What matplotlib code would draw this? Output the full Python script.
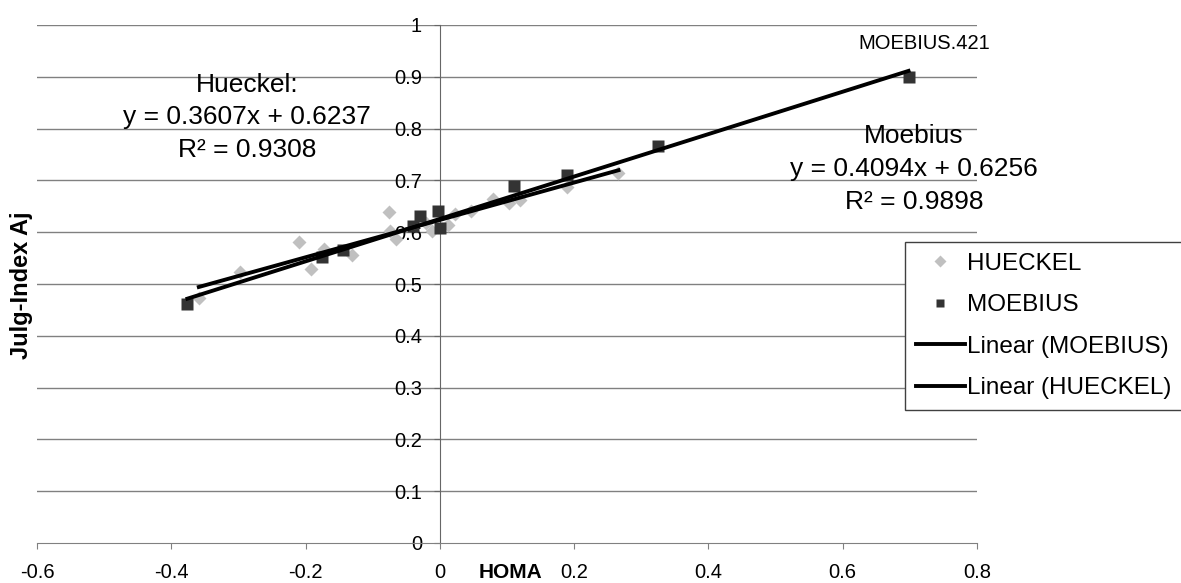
import matplotlib
matplotlib.use("Agg")
import matplotlib.pyplot as plt
import numpy as np

# data
hueckel_x = [-0.359, -0.298, -0.210, -0.192, -0.173, -0.131, -0.076, -0.074, -0.065,
             -0.020, -0.011, 0.012, 0.022, 0.046, 0.079, 0.103, 0.120, 0.189, 0.266]
hueckel_y = [0.473, 0.524, 0.581, 0.529, 0.568, 0.556, 0.639, 0.602, 0.587,
             0.617, 0.603, 0.614, 0.635, 0.641, 0.664, 0.657, 0.663, 0.688, 0.715]

moebius_x = [-0.376, -0.175, -0.144, -0.040, -0.030, -0.003, 0.000, 0.110, 0.190, 0.325, 0.698]
moebius_y = [0.462, 0.553, 0.566, 0.612, 0.631, 0.640, 0.608, 0.690, 0.710, 0.767, 0.900]

# trend line coefficients as printed on the chart
hueckel_fit = (0.3607, 0.6237, 0.9308)
moebius_fit = (0.4094, 0.6256, 0.9898)

x_ticks = [-0.6, -0.4, -0.2, 0, 0.2, 0.4, 0.6, 0.8]
x_labels = ["-0.6", "-0.4", "-0.2", "0", "0.2", "0.4", "0.6", "0.8"]
y_ticks = [0, 0.1, 0.2, 0.3, 0.4, 0.5, 0.6, 0.7, 0.8, 0.9, 1.0]
y_labels = ["0", "0.1", "0.2", "0.3", "0.4", "0.5", "0.6", "0.7", "0.8", "0.9", "1"]

plt.rcParams["font.family"] = ["Liberation Sans", "DejaVu Sans"]

W, H = 1181, 583
fig = plt.figure(figsize=(W / 100, H / 100), dpi=100)
ax = fig.add_axes([37 / W, 40 / H, 940 / W, 518 / H])
ax.set_xlim(-0.6, 0.8)
ax.set_ylim(0, 1)

# grid + axes
for y in y_ticks[1:]:
    ax.axhline(y, color="#808080", lw=1, zorder=0.4)
ax.spines["top"].set_visible(False)
ax.spines["right"].set_visible(False)
ax.spines["left"].set_position(("data", 0))
ax.spines["left"].set_color("#666666")
ax.spines["bottom"].set_color("#808080")
ax.set_axisbelow(True)

ax.set_xticks(x_ticks)
ax.set_xticklabels(x_labels)
ax.set_yticks(y_ticks)
ax.set_yticklabels(y_labels)
ax.tick_params(axis="x", direction="out", length=4.3, color="#808080", pad=10, labelsize=14.5)
ax.tick_params(axis="y", direction="out", length=4.3, color="#666666", pad=8.5, labelsize=14.5)

# scatter series
h_pts, = ax.plot(hueckel_x, hueckel_y, "D", color="#c0c0c0", ms=7.5, mec="none",
                 label="HUECKEL", zorder=3)
m_pts, = ax.plot(moebius_x, moebius_y, "s", color="#333333", ms=8.3, mec="none",
                 label="MOEBIUS", zorder=3)

# trend lines
hx = np.array([min(hueckel_x), max(hueckel_x)])
mx = np.array([min(moebius_x), max(moebius_x)])
m_line, = ax.plot(mx, moebius_fit[0] * mx + moebius_fit[1], color="black", lw=2.8,
                  label="Linear (MOEBIUS)", zorder=4)
h_line, = ax.plot(hx, hueckel_fit[0] * hx + hueckel_fit[1], color="black", lw=2.8,
                  label="Linear (HUECKEL)", zorder=4)

# equation labels
ax.text(-0.287, 0.822,
        "Hueckel:\ny = %.4fx + %.4f\nR² = %.4f" % hueckel_fit,
        ha="center", va="center", multialignment="center", fontsize=19, linespacing=1.45)
ax.text(0.706, 0.722,
        "Moebius\ny = %.4fx + %.4f\nR² = %.4f" % moebius_fit,
        ha="center", va="center", multialignment="center", fontsize=19, linespacing=1.45)
ax.text(0.721, 0.965, "MOEBIUS.421", ha="center", va="center", fontsize=14.5)

# axis titles
fig.text(510 / W, 1 - 573 / H, "HOMA", ha="center", va="center", fontsize=15, fontweight="bold")
fig.text(22 / W, 1 - 285 / H, "Julg-Index Aj", ha="center", va="center", rotation=90,
         fontsize=17, fontweight="bold")

leg = fig.legend([h_pts, m_pts, m_line, h_line],
                 ["HUECKEL", "MOEBIUS", "Linear (MOEBIUS)", "Linear (HUECKEL)"],
                 loc="upper left", bbox_to_anchor=(905 / W, 1 - 242 / H), borderaxespad=0,
                 fontsize=17.5, frameon=True, fancybox=False, handlelength=2.0,
                 handletextpad=0.12, labelspacing=0.8, borderpad=0.45, markerscale=0.75)
leg.get_frame().set_edgecolor("#404040")
leg.get_frame().set_linewidth(1)
leg.get_frame().set_alpha(1)

fig.savefig("out.png", dpi=100)
